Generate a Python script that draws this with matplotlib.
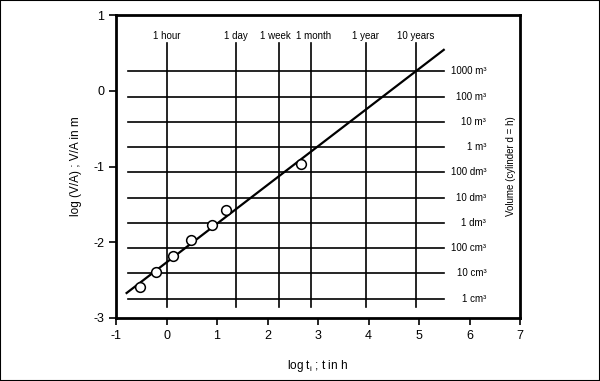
import numpy as np
import matplotlib
matplotlib.use("Agg")
import matplotlib.pyplot as plt
from matplotlib.patches import Rectangle

plt.rcParams['font.family'] = ['Liberation Sans', 'DejaVu Sans']
plt.rcParams['axes.unicode_minus'] = False

# measured points (log t_i, log V/A)
pts_x = [-0.52, -0.21, 0.12, 0.48, 0.91, 1.18, 2.66]
pts_y = [-2.59, -2.39, -2.18, -1.975, -1.77, -1.575, -0.97]

# fitted line end points
fit_x = [-0.79, 5.49]
fit_y = [-2.67, 0.54]

# time reference lines (hours)
time_labels = ["1 hour", "1 day", "1 week", "1 month", "1 year", "10 years"]
time_hours = [1, 24, 168, 720, 8760, 87600]
time_label_shift = [0, 0, -0.07, 0.05, 0, 0]

# volume reference lines (m^3), cylinder d = h -> V/A = d/6
vol_labels = ["1000 m³", "100 m³", "10 m³", "1 m³", "100 dm³",
              "10 dm³", "1 dm³", "100 cm³", "10 cm³", "1 cm³"]
vol_m3 = [1e3, 1e2, 1e1, 1e0, 1e-1, 1e-2, 1e-3, 1e-4, 1e-5, 1e-6]

fig = plt.figure(figsize=(6, 3.81), dpi=100)
fig.patch.set_facecolor('white')
ax = fig.add_axes([116/600, 1-318/381, (520-116)/600, (318-15)/381])

ax.set_xlim(-1, 7)
ax.set_ylim(-3, 1)

tx = np.log10(time_hours)
for x, lab, dx in zip(tx, time_labels, time_label_shift):
    ax.plot([x, x], [-2.85, 0.63], color='black', lw=1.2, zorder=1)
    ax.text(x + dx, 0.72, lab, ha='center', va='center', fontsize=7)

vy = [np.log10((4*v/np.pi)**(1/3)/6) for v in vol_m3]
for y, lab in zip(vy, vol_labels):
    ax.plot([-0.76, 5.50], [y, y], color='black', lw=1.2, zorder=1)
    ax.text(6.33, y, lab, ha='right', va='center', fontsize=7)

ax.plot(fit_x, fit_y, color='black', lw=1.6, zorder=2)
ax.plot(pts_x, pts_y, 'o', mfc='white', mec='black', ms=7, mew=1.1, zorder=3)

ax.text(6.82, -1.0, "Volume (cylinder d = h)", rotation=90, ha='center', va='center', fontsize=7)

ax.set_xticks(range(-1, 8))
ax.set_yticks(range(-3, 2))
ax.tick_params(direction='out', length=5, width=1.2, labelsize=9, top=False, right=False)
for s in ax.spines.values():
    s.set_linewidth(2)
ax.set_xlabel("log t$_\\mathregular{i}$ ; t in h", fontsize=8.5, labelpad=12)
ax.set_ylabel("log (V/A) ; V/A in m", fontsize=8.5, labelpad=8)

fig.patches.append(Rectangle((0, 0), 1, 1, transform=fig.transFigure, fill=False,
                             edgecolor='black', lw=1.5))
fig.savefig("out.png", dpi=100)
